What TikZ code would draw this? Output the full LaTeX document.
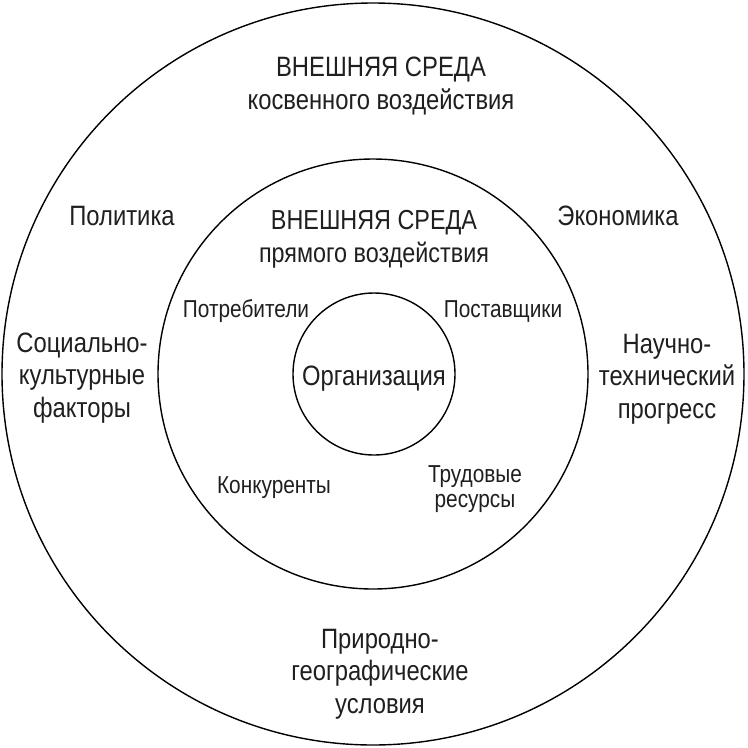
\documentclass[tikz,border=0pt]{standalone}
\usepackage{fontspec}
\setmainfont{Liberation Sans}[FakeStretch=0.85]
\begin{document}
\begin{tikzpicture}[x=1pt,y=-1pt,
  ring/.style={circle,draw=black,line width=1.4pt,inner sep=0pt,outer sep=0pt},
  bigtext/.style={font=\fontsize{28}{32.5}\selectfont,text=black!88,align=center,anchor=base,inner sep=0pt},
  midtext/.style={font=\fontsize{27.5}{33}\selectfont,text=black!88,align=center,anchor=base,inner sep=0pt},
  smalltext/.style={font=\fontsize{24.5}{25}\selectfont,text=black!88,align=center,anchor=base,inner sep=0pt}]
\useasboundingbox (0,0) rectangle (748,748);
\node[ring,minimum size=742pt] (outer) at (373,374) {};
\node[ring,minimum size=430pt] (middle) at (373,374) {};
\node[ring,minimum size=162pt] (inner) at (374,374) {};
% outer ring labels (base = last line)
\node[bigtext] (outtitle) at (381,109) {ВНЕШНЯЯ СРЕДА\\косвенного воздействия};
\node[bigtext] (polit) at (122,225) {Политика};
\node[bigtext] (econ) at (618,225) {Экономика};
\node[bigtext] (social) at (82,417) {Социально-\\культурные\\факторы};
\node[bigtext] (science) at (667,418) {Научно-\\технический\\прогресс};
\node[bigtext] (nature) at (380,713) {Природно-\\географические\\условия};
% middle ring labels
\node[midtext] (intitle) at (374,262) {ВНЕШНЯЯ СРЕДА\\прямого воздействия};
\node[smalltext] (consum) at (246,317) {Потребители};
\node[smalltext] (suppl) at (503,317) {Поставщики};
\node[smalltext] (compet) at (274,493) {Конкуренты};
\node[smalltext] (labor) at (475,507) {Трудовые\\ресурсы};
% centre
\node[bigtext] (org) at (374,385) {Организация};
\end{tikzpicture}
\end{document}
